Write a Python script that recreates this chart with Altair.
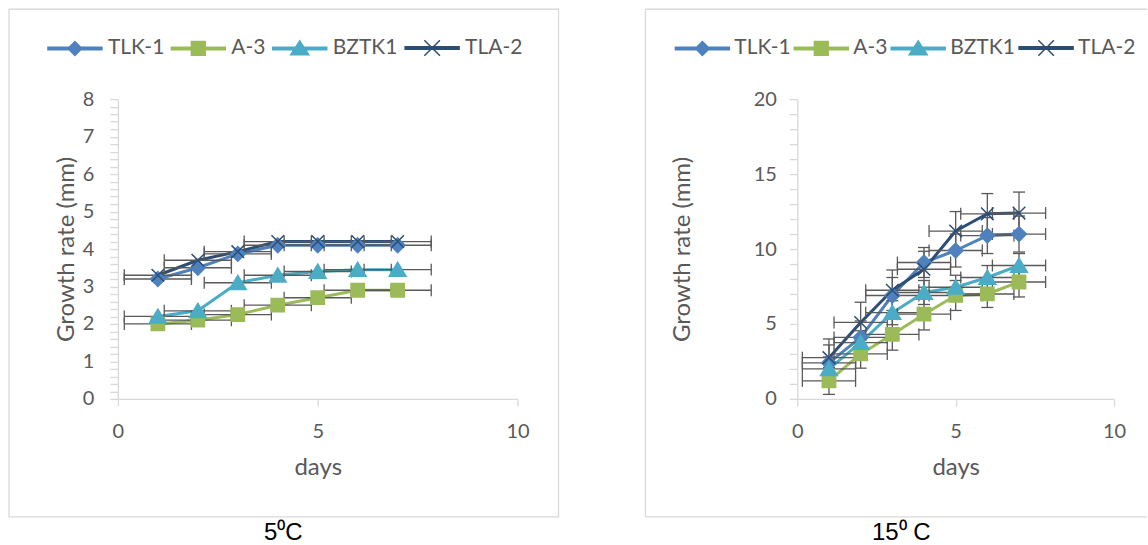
import altair as alt
import pandas as pd

# ---------------- data ----------------
days = [1, 2, 3, 4, 5, 6, 7]
series_names = ["TLK-1", "A-3", "BZTK1", "TLA-2"]
series_colors = ["#4F81BD", "#9BBB59", "#4BACC6", "#2C4D75"]
captions = ["5\u2070C", "15\u2070 C"]

# 5 °C panel
tlk1_5 = [3.2, 3.5, 3.87, 4.1, 4.1, 4.1, 4.1]
a3_5 = [2.0, 2.1, 2.25, 2.5, 2.7, 2.9, 2.9]
bztk1_5 = [2.2, 2.35, 3.1, 3.3, 3.4, 3.45, 3.45]
tla2_5 = [3.3, 3.7, 3.93, 4.2, 4.2, 4.2, 4.2]
xerr_5 = [0.84, 0.84, 0.84, 0.84, 0.84, 0.84, 0.84]

# 15 °C panel
tlk1_15 = [2.4, 4.1, 6.9, 9.1, 9.9, 10.9, 11.0]
a3_15 = [1.2, 3.0, 4.3, 5.65, 6.9, 7.0, 7.8]
bztk1_15 = [2.0, 3.75, 5.75, 7.1, 7.45, 8.1, 8.9]
tla2_15 = [2.75, 5.1, 7.25, 8.65, 11.2, 12.35, 12.4]
xerr_15 = [0.84, 0.84, 0.84, 0.84, 0.84, 0.84, 0.84]
yerr_tlk1_15 = [1.2, 1.1, 1.2, 1.0, 1.1, 1.2, 1.2]
yerr_a3_15 = [0.9, 0.95, 1.05, 1.05, 1.0, 0.9, 1.0]
yerr_bztk1_15 = [0.8, 0.8, 0.8, 0.8, 0.8, 0.8, 0.8]
yerr_tla2_15 = [1.25, 1.35, 1.35, 1.2, 1.3, 1.35, 1.4]

x_ticks = [0, 5, 10]
y_ticks_5 = [round(i * 0.2, 1) for i in range(41)]
y_ticks_15 = list(range(21))

# marker shapes (data points) and legend symbols (line + marker)
point_paths = [
    "M0,-1.05L1.05,0L0,1.05L-1.05,0Z",
    "M-0.95,-0.95H0.95V0.95H-0.95Z",
    "M0,-1.05L1.2,0.95H-1.2Z",
    "M-0.9,-0.9L0.9,0.9M-0.9,0.9L0.9,-0.9",
]
LINE = "M-4.5,-0.21H4.5V0.21H-4.5Z "
legend_paths = [
    LINE + "M0,-1.15L1.15,0L0,1.15L-1.15,0Z",
    LINE + "M-1.15,-1.15H1.15V1.15H-1.15Z",
    LINE + "M0,-1.25L1.5,1.05H-1.5Z",
    LINE + "M-1.3,-1.3L1.3,1.3M-1.3,1.3L1.3,-1.3",
]

GRAY = "#595959"
FONT = "Lato"


def build_frame(values, xerr, yerrs):
    rows = []
    for name, vals, ye in zip(series_names, values, yerrs):
        for d, v, xe, e in zip(days, vals, xerr, ye):
            rows.append({"series": name, "day": d, "value": v,
                         "xlo": d - xe, "xhi": d + xe,
                         "ylo": v - e, "yhi": v + e, "yerr": e})
    return pd.DataFrame(rows)


zero7 = [0, 0, 0, 0, 0, 0, 0]
df5 = build_frame([tlk1_5, a3_5, bztk1_5, tla2_5], xerr_5, [zero7] * 4)
df15 = build_frame([tlk1_15, a3_15, bztk1_15, tla2_15], xerr_15,
                   [yerr_tlk1_15, yerr_a3_15, yerr_bztk1_15, yerr_tla2_15])


def panel(df, caption, ymax, yticks, label_expr, width, height,
          lab_pad, title_pad, legend_x, legend_y, col_pad, lab_off, box_left, box_right,
          closed_box, cap_x):
    xs = alt.Scale(domain=[0, 10], nice=False)
    ys = alt.Scale(domain=[0, ymax], nice=False)
    xax = alt.Axis(values=x_ticks, tickSize=7, labelPadding=16, titlePadding=14,
                   title="days", labelFlush=False, format="d")
    yax = alt.Axis(values=yticks, tickSize=8, labelPadding=lab_pad, titlePadding=title_pad,
                   title="Growth rate (mm)", labelExpr=label_expr, labelOverlap=False,
                   labelFlush=False, format=".0f")

    def xq(f):
        return alt.X(f"{f}:Q", scale=xs, axis=xax, title="days")

    def yq(f):
        return alt.Y(f"{f}:Q", scale=ys, axis=yax, title="Growth rate (mm)")

    cap_df = pd.DataFrame({"caption": [caption]})
    layers = []
    base = alt.Chart(df)
    # lines (first, so the axes come from a plain layer)
    for name, col in zip(series_names, series_colors):
        layers.append(base.transform_filter(alt.datum.series == name).mark_line(
            color=col, strokeWidth=3, strokeCap="round", strokeJoin="round").encode(
            x=xq("day"), y=yq("value"), order="day:Q"))
    # outer chart-area border
    if closed_box:
        layers.append(alt.Chart(cap_df).mark_rect(fillOpacity=0, stroke="#d9d9d9", strokeWidth=1.3).encode(
            x=alt.value(box_left), x2=alt.value(box_right), y=alt.value(-90), y2=alt.value(418)))
    else:
        rule = alt.Chart(cap_df).mark_rule(stroke="#d9d9d9", strokeWidth=1.3)
        layers.append(rule.encode(x=alt.value(box_left), x2=alt.value(box_right), y=alt.value(-90)))
        layers.append(rule.encode(x=alt.value(box_left), y=alt.value(-90), y2=alt.value(418)))
        layers.append(rule.encode(x=alt.value(box_left), x2=alt.value(box_right), y=alt.value(418)))

    # horizontal error bars
    layers.append(base.mark_rule(color=GRAY, strokeWidth=1.3).encode(
        x=xq("xlo"), x2="xhi:Q", y=yq("value")))
    for f in ["xlo", "xhi"]:
        layers.append(base.mark_tick(orient="vertical", size=12, thickness=1.3, color=GRAY, opacity=1).encode(
            x=xq(f), y=yq("value")))
    # vertical error bars
    vb = base.transform_filter(alt.datum.yerr > 0)
    layers.append(vb.mark_rule(color=GRAY, strokeWidth=1.3).encode(
        x=xq("day"), y=yq("ylo"), y2="yhi:Q"))
    for f in ["ylo", "yhi"]:
        layers.append(vb.mark_tick(orient="horizontal", size=12, thickness=1.3, color=GRAY, opacity=1).encode(
            x=xq("day"), y=yq(f)))
    # markers
    for name, col, path in zip(series_names, series_colors, point_paths):
        layers.append(base.transform_filter(alt.datum.series == name).mark_point(
            shape=path, filled=True, fill=col, stroke=col, strokeWidth=1.5, size=196, opacity=1).encode(
            x=xq("day"), y=yq("value")))
    # legend-only layer
    leg = alt.Legend(orient="none", legendX=legend_x, legendY=legend_y, direction="horizontal",
                     title=None, labelFont=FONT, labelFontSize=21, labelColor=GRAY,
                     symbolSize=144, symbolStrokeWidth=1.5, labelOffset=lab_off,
                     columnPadding=col_pad, symbolOpacity=1)
    layers.append(base.transform_filter("false").mark_point(
        filled=True, size=144, strokeWidth=1.5, opacity=1).encode(
        fill=alt.Fill("series:N", scale=alt.Scale(domain=series_names, range=series_colors), legend=leg),
        stroke=alt.Stroke("series:N", scale=alt.Scale(domain=series_names, range=series_colors), legend=leg),
        shape=alt.Shape("series:N", scale=alt.Scale(domain=series_names, range=legend_paths), legend=leg),
    ))
    # caption under the box
    layers.append(alt.Chart(cap_df).mark_text(font="Liberation Sans", fontSize=24, color="black",
                                              align="center", baseline="middle").encode(
        x=alt.value(cap_x), y=alt.value(434), text="caption:N"))

    return alt.layer(*layers).properties(width=width, height=height)


left = panel(df5, captions[0], 8, y_ticks_5,
             "datum.value % 1 == 0 ? datum.label : ''", 400, 300,
             16, 4, -53.5, -62, 3.5, 22.5, -109, 441, True, 165.5)
right = panel(df15, captions[1], 20, y_ticks_15,
              "datum.value % 5 == 0 ? datum.label : ''", 317, 300,
              13, 59, -105.5, -62, 0, 21.5, -152, 350, False, 104)

chart = alt.hconcat(left, right).resolve_scale(
    fill="independent", stroke="independent", shape="independent",
    x="independent", y="independent",
).resolve_legend(
    fill="independent", stroke="independent", shape="independent",
).properties(
    padding={"left": 8, "top": 8, "right": 0, "bottom": 0}
).configure_concat(spacing=85).configure_view(stroke=None).configure_axis(
    grid=False, domainColor="#d9d9d9", domainWidth=1.3, tickColor="#d9d9d9", tickWidth=1.3,
    labelFont=FONT, labelFontSize=20, labelColor=GRAY,
    titleFont=FONT, titleFontSize=24, titleColor=GRAY, titleFontWeight="normal",
)

chart.save("out.html", embed_options={"renderer": "svg", "actions": False})
